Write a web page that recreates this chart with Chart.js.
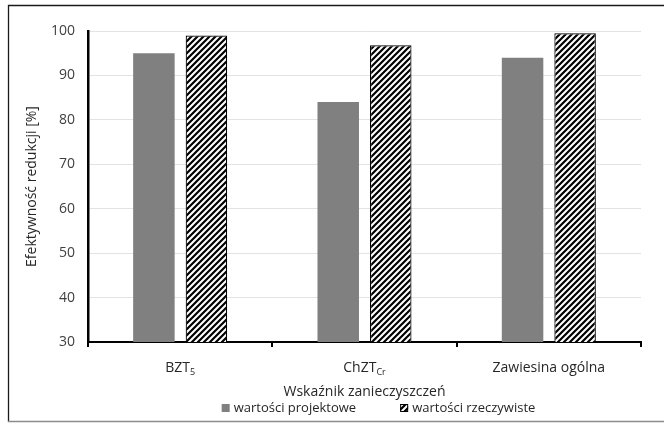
<!DOCTYPE html>
<html><head><meta charset="utf-8">
<script src="https://cdn.jsdelivr.net/npm/chart.js@4/dist/chart.umd.min.js"></script>
<style>html,body{margin:0;padding:0;background:#fff}canvas{display:block}</style>
</head><body>
<canvas id="c" width="664" height="424"></canvas>
<script>
const categories = ['BZT', 'ChZT', 'Zawiesina ogólna'];
const categorySubscripts = ['5', 'Cr', ''];
const projectValues = [95, 84, 94];
const actualValues = [99, 96.8, 99.5];
const seriesNames = ['wartości projektowe', 'wartości rzeczywiste'];
const yTicks = [30, 40, 50, 60, 70, 80, 90, 100];
const xTitle = 'Wskaźnik zanieczyszczeń';
const yTitle = 'Efektywność redukcji [%]';

const FONT = '"Open Sans"';
const FS = 14;
const LFS = 13;
const ctx = document.getElementById('c').getContext('2d');

function makeHatch() {
  const s = 6;
  const c = document.createElement('canvas');
  c.width = s; c.height = s;
  const g = c.getContext('2d');
  g.fillStyle = '#fff'; g.fillRect(0, 0, s, s);
  g.strokeStyle = '#000'; g.lineWidth = 2.2;
  g.beginPath();
  g.moveTo(-1, s + 1); g.lineTo(s + 1, -1);
  g.moveTo(-s / 2 - 1, s / 2 + 1); g.lineTo(s / 2 + 1, -s / 2 - 1);
  g.moveTo(s / 2 - 1, s * 1.5 + 1); g.lineTo(s * 1.5 + 1, s / 2 - 1);
  g.stroke();
  return ctx.createPattern(c, 'repeat');
}
const hatch = makeHatch();

const framePlugin = {
  id: 'frame',
  beforeDraw(chart) {
    const c = chart.ctx;
    c.save();
    c.fillStyle = '#fff';
    c.fillRect(0, 0, chart.width, chart.height);
    c.strokeStyle = '#1a1a1a'; c.lineWidth = 1.3;
    c.beginPath();
    c.moveTo(8.5, chart.height - 2); c.lineTo(8.5, 5.5); c.lineTo(chart.width, 5.5);
    c.stroke();
    c.strokeStyle = '#8c8c8c'; c.lineWidth = 1.5;
    c.beginPath(); c.moveTo(8, 421.5); c.lineTo(chart.width, 421.5); c.stroke();
    c.restore();
  },
  afterDraw(chart) {
    const c = chart.ctx;
    const xs = chart.scales.x;
    c.save();
    c.fillStyle = '#262626';
    c.textBaseline = 'middle';
    c.textAlign = 'left';
    const mainFont = FS + 'px ' + FONT, subFont = '9px ' + FONT;
    categories.forEach((lab, i) => {
      const sub = categorySubscripts[i];
      c.font = mainFont; const w1 = c.measureText(lab).width;
      c.font = subFont; const w2 = sub ? c.measureText(sub).width : 0;
      const x0 = xs.getPixelForTick(i) - (w1 + w2) / 2;
      const y = xs.top + 26;
      c.font = mainFont; c.fillText(lab, x0, y);
      if (sub) { c.font = subFont; c.fillText(sub, x0 + w1, y + 4); }
    });
    // legend
    const ds = chart.data.datasets;
    c.font = LFS + 'px ' + FONT;
    const box = 8, gapBox = 4, gapItem = 44;
    const widths = ds.map(d => c.measureText(d.label).width);
    const total = widths.reduce((a, w) => a + box + gapBox + w, 0) + gapItem * (ds.length - 1);
    let x = (chart.chartArea.left + chart.chartArea.right) / 2 + 14 - total / 2;
    const ly = 408;
    ds.forEach((d, i) => {
      c.fillStyle = d.backgroundColor;
      c.fillRect(x, ly - box / 2, box, box);
      if (d.borderWidth) {
        c.strokeStyle = d.borderColor; c.lineWidth = 1;
        c.strokeRect(x + 0.5, ly - box / 2 + 0.5, box - 1, box - 1);
      }
      c.fillStyle = '#262626';
      c.fillText(d.label, x + box + gapBox, ly);
      x += box + gapBox + widths[i] + gapItem;
    });
    c.restore();
  }
};

new Chart(ctx, {
  type: 'bar',
  data: {
    labels: categories,
    datasets: [
      { label: seriesNames[0], data: projectValues, backgroundColor: '#808080', borderWidth: 0,
        categoryPercentage: 0.57, barPercentage: 0.79 },
      { label: seriesNames[1], data: actualValues, backgroundColor: hatch, borderColor: '#000', borderWidth: 1.2,
        categoryPercentage: 0.57, barPercentage: 0.79 }
    ]
  },
  options: {
    responsive: false,
    animation: false,
    devicePixelRatio: 1,
    layout: { padding: { left: 0, right: 23, top: 31, bottom: 22 } },
    plugins: { legend: { display: false }, tooltip: { enabled: false } },
    scales: {
      x: {
        afterFit: s => { s.height = 60; },
        grid: { display: true, drawOnChartArea: false, drawTicks: true, tickLength: 5, color: '#000', lineWidth: 2, offset: true },
        border: { display: true, color: '#000', width: 2 },
        ticks: { color: 'rgba(0,0,0,0)', font: { family: FONT, size: FS }, padding: 12 },
        title: { display: true, text: xTitle, color: '#262626', font: { family: FONT, size: FS }, padding: { top: 2, bottom: 2 } }
      },
      y: {
        min: 30, max: 100,
        afterFit: s => { s.width = 88; },
        afterBuildTicks: s => { s.ticks = yTicks.map(v => ({ value: v })); },
        grid: { color: '#e3e3e3', lineWidth: 1, drawTicks: false },
        border: { display: true, color: '#000', width: 2.5 },
        ticks: { color: '#404040', font: { family: FONT, size: FS }, padding: 13 },
        title: { display: true, text: yTitle, color: '#262626', font: { family: FONT, size: FS }, padding: { top: 24, bottom: 0 } }
      }
    }
  },
  plugins: [framePlugin]
});
</script>
</body></html>
